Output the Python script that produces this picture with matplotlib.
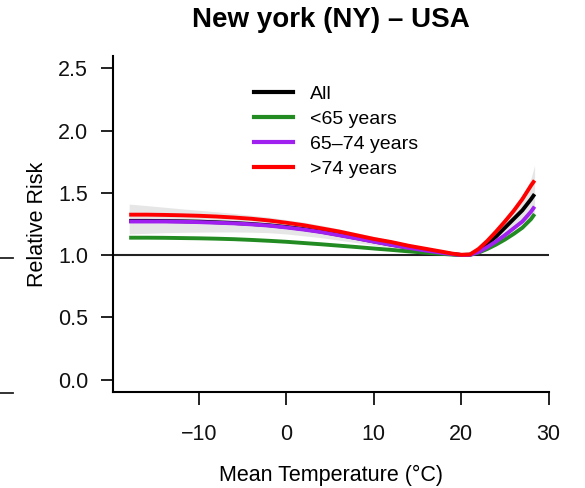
import matplotlib
matplotlib.use("Agg")
import matplotlib.pyplot as plt
from matplotlib.lines import Line2D

plt.rcParams['font.family'] = ['Liberation Sans', 'DejaVu Sans']

title = "New york (NY) \u2013 USA"
xlabel = "Mean Temperature (\u00b0C)"
ylabel = "Relative Risk"
labels = ["All", "<65 years", "65\u201374 years", ">74 years"]
colors = ["black", "#228B22", "#A020F0", "#FF0000"]

temp = [-18, -16, -14, -12, -10, -8, -6, -4, -2, 0, 2, 4, 6, 8, 10, 12, 14, 16, 18,
        19, 20, 21, 22, 23, 24, 25, 26, 27, 28, 28.4]

rr_all = [1.275, 1.275, 1.274, 1.272, 1.269, 1.264, 1.258, 1.250, 1.240, 1.226, 1.209,
          1.188, 1.163, 1.137, 1.110, 1.084, 1.059, 1.037, 1.017, 1.008, 1.001,
          1.003, 1.035, 1.09, 1.15, 1.22, 1.29, 1.36, 1.45, 1.49]
rr_lt65 = [1.140, 1.140, 1.139, 1.137, 1.135, 1.132, 1.128, 1.122, 1.115, 1.107, 1.097,
           1.087, 1.076, 1.065, 1.053, 1.042, 1.030, 1.019, 1.009, 1.004, 1.001,
           1.002, 1.020, 1.050, 1.085, 1.125, 1.170, 1.220, 1.290, 1.330]
rr_6574 = [1.270, 1.270, 1.270, 1.268, 1.265, 1.260, 1.255, 1.247, 1.237, 1.222, 1.205,
           1.185, 1.160, 1.135, 1.108, 1.082, 1.058, 1.036, 1.016, 1.008, 1.001,
           1.002, 1.025, 1.065, 1.110, 1.160, 1.215, 1.270, 1.350, 1.390]
rr_gt74 = [1.325, 1.325, 1.323, 1.320, 1.316, 1.310, 1.302, 1.292, 1.278, 1.260, 1.240,
           1.215, 1.190, 1.160, 1.130, 1.105, 1.075, 1.050, 1.025, 1.012, 1.003,
           1.005, 1.050, 1.115, 1.190, 1.270, 1.355, 1.450, 1.560, 1.600]
ci_low = [1.170, 1.175, 1.180, 1.183, 1.185, 1.186, 1.186, 1.184, 1.180, 1.170, 1.155,
          1.140, 1.120, 1.100, 1.080, 1.060, 1.045, 1.030, 1.012, 1.005, 1.000,
          1.000, 1.020, 1.060, 1.110, 1.160, 1.210, 1.260, 1.300, 1.310]
ci_high = [1.410, 1.398, 1.385, 1.372, 1.360, 1.348, 1.335, 1.320, 1.305, 1.285, 1.265,
           1.240, 1.210, 1.180, 1.150, 1.120, 1.090, 1.060, 1.030, 1.015, 1.003,
           1.005, 1.050, 1.110, 1.180, 1.260, 1.350, 1.450, 1.620, 1.720]

xticks = [-10, 0, 10, 20, 30]
yticks = [0.0, 0.5, 1.0, 1.5, 2.0, 2.5]

W, H = 585, 488
fig = plt.figure(figsize=(W / 100, H / 100), dpi=100)
left, right, bottom, top = 113, 549, 392, 56
ax = fig.add_axes([left / W, 1 - bottom / H, (right - left) / W, (bottom - top) / H])

ax.fill_between(temp, ci_low, ci_high, color="#E6E6E6", lw=0, zorder=1)
ax.axhline(1.0, color="#222222", lw=1.5, zorder=2)
series = [rr_all, rr_lt65, rr_6574, rr_gt74]
for s, c in zip(series, colors):
    ax.plot(temp, s, color=c, lw=2.8, solid_capstyle="butt", zorder=3)
ax.set_xlim(-19.85, 30.05)
ax.set_ylim(-0.1, 2.6)
ax.set_xticks(xticks)
ax.set_xticklabels([f"{t}".replace("-", "\u2212") for t in xticks])
ax.set_yticks(yticks)
ax.set_yticklabels([f"{t:.1f}" for t in yticks])
for sp in ["top", "right"]:
    ax.spines[sp].set_visible(False)
for sp in ["left", "bottom"]:
    ax.spines[sp].set_linewidth(1.5)
ax.tick_params(axis="both", direction="out", length=9, width=1.3, labelsize=15.5,
               colors="#111111")
ax.tick_params(axis="x", pad=14)
ax.tick_params(axis="y", pad=9)

ax.set_title(title, fontsize=20, fontweight="bold", pad=21)
ax.set_xlabel(xlabel, fontsize=15.5, labelpad=14)
ax.set_ylabel(ylabel, fontsize=15.5, labelpad=7)

handles = [Line2D([0], [0], color=c, lw=3) for c in colors]
leg = ax.legend(handles, labels, loc="upper left", bbox_to_anchor=(0.305, 0.935),
                frameon=False, fontsize=14, handlelength=2.0, handletextpad=0.9,
                labelspacing=0.38, borderaxespad=0)

# fragments of neighbouring panel at left edge
fig.add_artist(Line2D([0, 13 / W], [1 - 258 / H, 1 - 258 / H], color="#222222", lw=1.3))
fig.add_artist(Line2D([0, 13 / W], [1 - 393 / H, 1 - 393 / H], color="#222222", lw=1.3))

fig.savefig("out.png", dpi=100)
